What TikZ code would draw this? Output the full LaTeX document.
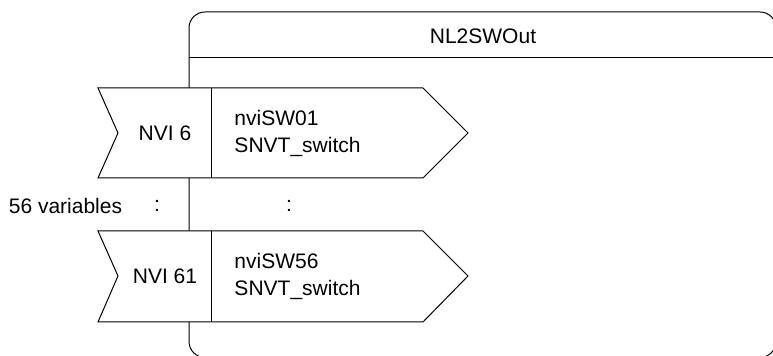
\documentclass[tikz,border=0pt]{standalone}
\usepackage{fontspec}
\setmainfont{Liberation Sans}
\begin{document}
\begin{tikzpicture}[x=0.5pt,y=-0.5pt,line width=0.5pt,
  every node/.style={font=\fontsize{10.5}{13.5}\selectfont,inner sep=0pt},
  nvflag/.style={draw,fill=white,line join=miter}]

\useasboundingbox (0,0) rectangle (773,356);
\clip (0,0) rectangle (773,356);
  \draw[rounded corners=8pt] (189,12) rectangle (776,357.5);
  \coordinate (h1) at (189,58);
  \coordinate (h2) at (776,58);
  \draw (h1) -- (h2);
  \node (title) at (483,36) {NL2SWOut};
  \draw[nvflag] (98,88) -- (423,88) -- (468,133) -- (423,178) -- (98,178) -- (118,133) -- cycle;
  \draw[nvflag] (98,231) -- (423,231) -- (468,276) -- (423,322) -- (98,322) -- (118,276) -- cycle;
  \coordinate (d1t) at (211,88);
  \coordinate (d1b) at (211,178);
  \coordinate (d2t) at (211,231);
  \coordinate (d2b) at (211,322);
  \draw (d1t) -- (d1b);
  \draw (d2t) -- (d2b);
  \node (n1) at (165,133) {NVI 6};
  \node[anchor=west,align=left] (v1) at (234,133) {nviSW01\\SNVT\_switch};
  \node (n2) at (165,276) {NVI 61};
  \node[anchor=west,align=left] (v2) at (234,276) {nviSW56\\SNVT\_switch};
  \node (cnt) at (65.5,206) {56 variables};
  \node (dots1) at (157,206) {:};
  \node (dots2) at (289,206) {:};
 \end{tikzpicture}
\end{document}
